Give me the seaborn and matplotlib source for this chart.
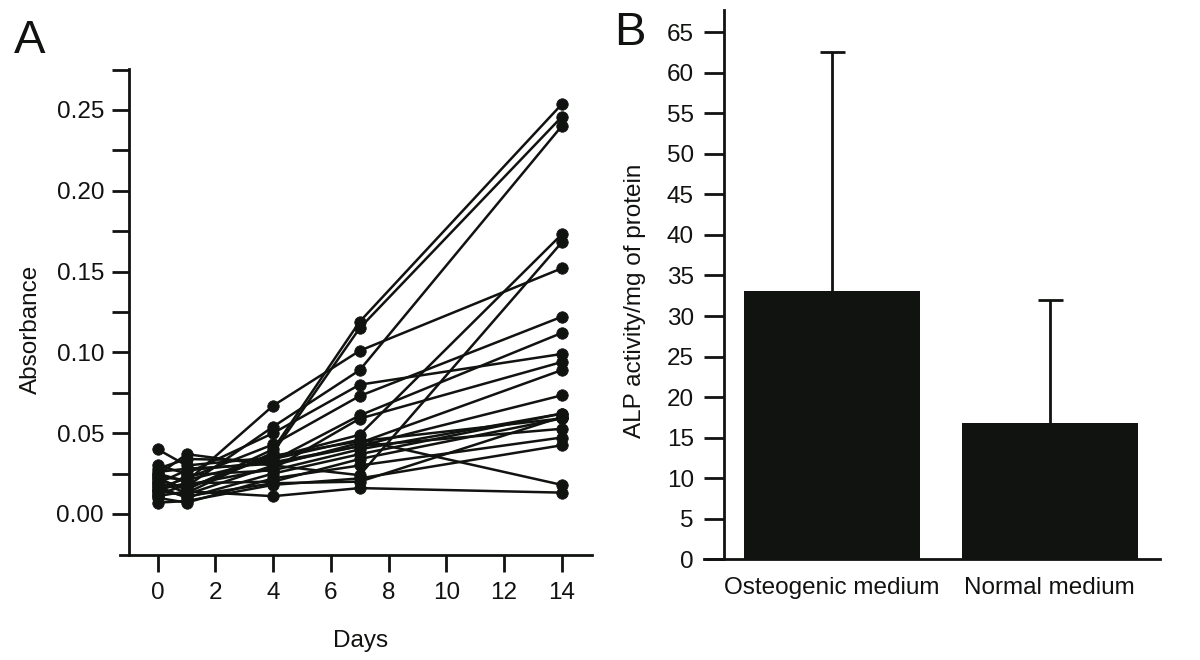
import matplotlib
matplotlib.use("Agg")
import matplotlib.pyplot as plt
import seaborn as sns
import pandas as pd
import numpy as np
from matplotlib.ticker import FixedLocator

# ---------------- data ----------------
days = [0, 1, 4, 7, 14]
s01 = [0.022, 0.015, 0.040, 0.119, 0.2535]
s02 = [0.020, 0.013, 0.038, 0.115, 0.2457]
s03 = [0.018, 0.017, 0.054, 0.089, 0.240]
s04 = [0.025, 0.020, 0.067, 0.101, 0.152]
s05 = [0.030, 0.025, 0.050, 0.080, 0.099]
s06 = [0.016, 0.022, 0.043, 0.073, 0.122]
s07 = [0.040, 0.030, 0.035, 0.049, 0.173]
s08 = [0.014, 0.012, 0.030, 0.024, 0.168]
s09 = [0.028, 0.034, 0.033, 0.061, 0.112]
s10 = [0.012, 0.018, 0.028, 0.059, 0.094]
s11 = [0.024, 0.037, 0.030, 0.044, 0.089]
s12 = [0.019, 0.027, 0.032, 0.042, 0.0734]
s13 = [0.013, 0.024, 0.027, 0.040, 0.0621]
s14 = [0.017, 0.010, 0.025, 0.037, 0.0621]
s15 = [0.021, 0.016, 0.036, 0.045, 0.0591]
s16 = [0.015, 0.019, 0.020, 0.034, 0.0591]
s17 = [0.026, 0.028, 0.031, 0.042, 0.0527]
s18 = [0.010, 0.007, 0.022, 0.030, 0.0473]
s19 = [0.007, 0.008, 0.018, 0.022, 0.0425]
s20 = [0.023, 0.021, 0.034, 0.046, 0.018]
s21 = [0.011, 0.014, 0.011, 0.016, 0.0132]
s22 = [0.015, 0.011, 0.019, 0.020, 0.060]
samples = [s01, s02, s03, s04, s05, s06, s07, s08, s09, s10, s11,
           s12, s13, s14, s15, s16, s17, s18, s19, s20, s21, s22]

x_ticks_a = [0, 2, 4, 6, 8, 10, 12, 14]
y_ticks_a = [0.00, 0.05, 0.10, 0.15, 0.20, 0.25]
y_ticklabels_a = ["0.00", "0.05", "0.10", "0.15", "0.20", "0.25"]

media = ["Osteogenic medium", "Normal medium"]
alp_mean = [33.1, 16.8]
alp_sd = [29.4, 15.2]
y_ticks_b = list(range(0, 70, 5))

# ---------------- style ----------------
sns.set_style("ticks")
plt.rcParams["font.family"] = ["Liberation Sans", "DejaVu Sans"]
FS = 17.5
INK = "#111310"

rows = []
for i, s in enumerate(samples):
    for d, v in zip(days, s):
        rows.append({"sample": i, "day": d, "absorbance": v})
df = pd.DataFrame(rows)

fig = plt.figure(figsize=(12, 6.6), dpi=100)

# ---------------- panel A ----------------
axA = fig.add_axes([0.1000, 0.1591, 0.3931, 0.7367])
sns.lineplot(data=df, x="day", y="absorbance", units="sample", estimator=None,
             color=INK, lw=1.8, marker="o", markersize=8.3,
             markeredgecolor=INK, markeredgewidth=0.5, ax=axA, legend=False)
axA.set_xlim(-1.306, 15.04)
axA.set_ylim(-0.0254, 0.2755)
for sp in ["top", "right"]:
    axA.spines[sp].set_visible(False)
axA.spines["left"].set_position(("data", -0.984))
for sp in ["left", "bottom"]:
    axA.spines[sp].set_linewidth(2.0)
    axA.spines[sp].set_color(INK)
axA.xaxis.set_major_locator(FixedLocator(x_ticks_a))
axA.set_xticklabels([str(t) for t in x_ticks_a])
axA.yaxis.set_major_locator(FixedLocator(y_ticks_a))
axA.set_yticklabels(y_ticklabels_a)
axA.yaxis.set_minor_locator(FixedLocator([0.025, 0.075, 0.125, 0.175, 0.225, 0.275]))
axA.tick_params(axis="both", which="both", direction="out", length=12.2, width=2.0,
                color=INK, labelsize=FS, labelcolor=INK)
axA.tick_params(axis="y", which="both", pad=6)
axA.tick_params(axis="x", which="both", pad=7)
axA.set_xlabel("Days", fontsize=FS, color=INK)
axA.set_ylabel("Absorbance", fontsize=FS, color=INK)
axA.xaxis.set_label_coords(0.509, -0.155)
axA.yaxis.set_label_coords(-0.166, 0.463)

# ---------------- panel B ----------------
axB = fig.add_axes([0.5863, 0.1526, 0.3801, 0.8318])
sns.barplot(x=media, y=alp_mean, color=INK, saturation=1, width=0.81,
            edgecolor="none", ax=axB)
eb = axB.errorbar(x=[0, 1], y=alp_mean, yerr=[[0, 0], alp_sd], fmt="none",
                  ecolor=INK, elinewidth=2.0, capsize=9, capthick=2.0, zorder=3)
# keep only the upper caps (no cap at the bar top)
caplines = eb.lines[1]
if len(caplines) == 2:
    caplines[0].set_visible(False)
axB.set_xlim(-0.590, 1.505)
axB.set_ylim(0, 67.7)
for sp in ["top", "right"]:
    axB.spines[sp].set_visible(False)
axB.spines["left"].set_position(("data", -0.498))
for sp in ["left", "bottom"]:
    axB.spines[sp].set_linewidth(2.0)
    axB.spines[sp].set_color(INK)
axB.yaxis.set_major_locator(FixedLocator(y_ticks_b))
axB.set_yticklabels([str(t) for t in y_ticks_b])
axB.tick_params(axis="y", direction="out", length=14.4, width=2.0, color=INK,
                labelsize=FS, labelcolor=INK, pad=7)
axB.tick_params(axis="x", length=0, labelsize=FS, labelcolor=INK, pad=13)
axB.set_xlabel("")
axB.set_ylabel("ALP activity/mg of protein", fontsize=FS, color=INK)
axB.yaxis.set_label_coords(-0.126, 0.4705)

# ---------------- panel letters ----------------
fig.text(0.0115, 0.919, "A", fontsize=34, color=INK, va="baseline", ha="left")
fig.text(0.512, 0.932, "B", fontsize=34, color=INK, va="baseline", ha="left")

fig.savefig("out.png", dpi=100, facecolor="white")
